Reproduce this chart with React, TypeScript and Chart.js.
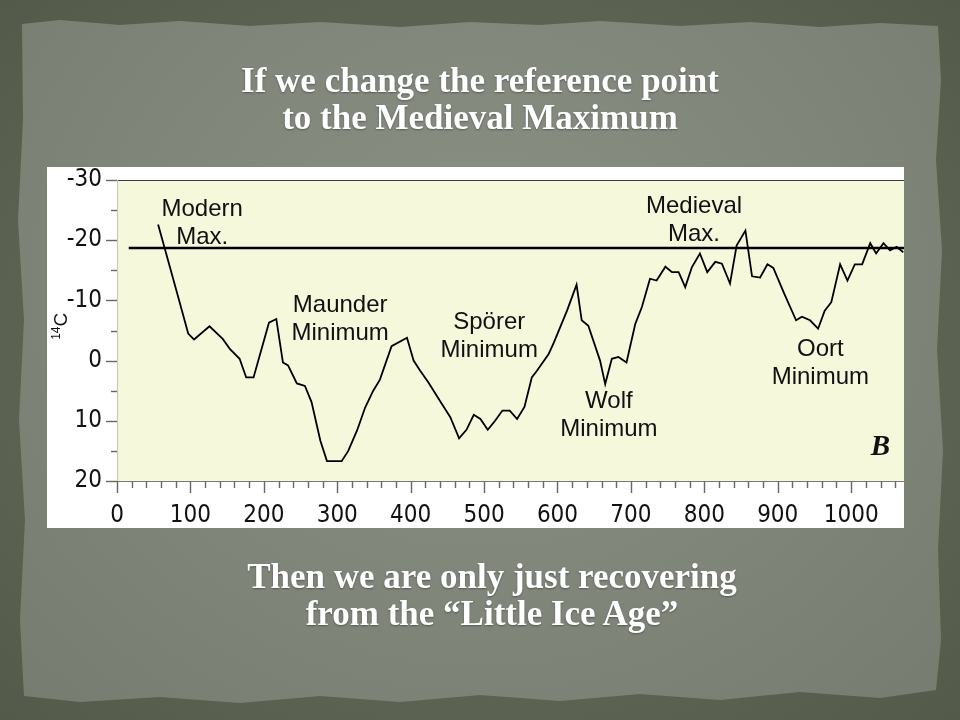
import React, { useEffect, useRef } from "react";
import { Chart, registerables } from "chart.js";
Chart.register(...registerables);

// ---- data (years AD vs. Δ14C; axis inverted) ----
const years = [56, 81, 97, 105, 126, 144, 154, 167, 176, 186, 207, 217, 226, 233, 245, 256, 265, 277, 286, 306, 315, 327, 338, 349, 358, 374, 395, 404, 413, 424, 440, 454, 466, 476, 486, 495, 505, 515, 525, 535, 545, 555, 565, 572, 588, 595, 613, 626, 633, 642, 658, 665, 674, 683, 694, 706, 715, 726, 735, 747, 756, 765, 774, 783, 794, 804, 815, 824, 835, 844, 856, 865, 876, 886, 894, 909, 925, 933, 944, 955, 964, 973, 985, 995, 1005, 1015, 1026, 1034, 1044, 1053, 1062, 1071];
const c14 = [-22.6, -11.6, -4.5, -3.5, -5.7, -3.6, -1.9, -0.3, 2.8, 2.8, -6.3, -6.9, 0.3, 0.8, 3.8, 4.2, 6.9, 13.3, 16.7, 16.7, 15.0, 11.6, 7.8, 5.0, 3.2, -2.4, -3.8, 0.0, 1.7, 3.6, 6.7, 9.4, 12.9, 11.5, 9.0, 9.7, 11.5, 10.0, 8.3, 8.3, 9.7, 7.7, 2.8, 1.7, -1.1, -3.0, -8.3, -12.6, -6.7, -5.8, 0.0, 3.9, -0.3, -0.6, 0.3, -6.1, -8.9, -13.6, -13.3, -15.6, -14.7, -14.7, -12.2, -15.5, -17.8, -14.7, -16.4, -16.1, -12.8, -19.1, -21.6, -14.0, -13.8, -16.0, -15.4, -11.1, -6.7, -7.3, -6.7, -5.3, -8.3, -9.7, -16.0, -13.3, -16.0, -16.0, -19.5, -17.8, -19.5, -18.3, -18.9, -18.0];

const refYears = [16, 1072];
const refValue = -18.7;

const xMin = 0;
const xMax = 1072;
const yMin = -30;
const yMax = 20;

const labelLines = [
  ["Modern", "Max."],
  ["Maunder", "Minimum"],
  ["Spörer", "Minimum"],
  ["Wolf", "Minimum"],
  ["Medieval", "Max."],
  ["Oort", "Minimum"],
];
const labelYears = [116, 304, 507, 670, 786, 958];
const labelValues = [-23.0, -7.0, -4.2, 8.9, -23.5, 0.25];

const panelLetter = "B";
const panelLetterYear = 1040;
const panelLetterValue = 14.5;

const titleLines = ["If we change the reference point", "to the Medieval Maximum"];
const footerLines = ["Then we are only just recovering", "from the \u201CLittle Ice Age\u201D"];

const TICK_FONT = "'Liberation Sans Narrow', 'DejaVu Sans Condensed', 'Liberation Sans', sans-serif";

const decor = {
  id: "decor",
  beforeDraw(chart: any) {
    const { ctx, chartArea: a } = chart;
    ctx.save();
    ctx.fillStyle = "#f6f8dc";
    ctx.fillRect(a.left, a.top, a.right - a.left, a.bottom - a.top);
    ctx.restore();
  },
  afterDraw(chart: any) {
    const { ctx, chartArea: a, scales } = chart;
    const xs = scales.x;
    const ys = scales.y;
    const seg = (x1: number, y1: number, x2: number, y2: number) => {
      ctx.beginPath();
      ctx.moveTo(x1, y1);
      ctx.lineTo(x2, y2);
      ctx.stroke();
    };
    ctx.save();
    ctx.lineWidth = 1.2;
    ctx.strokeStyle = "#3c3c3c";
    seg(a.left, a.top + 0.5, a.right, a.top + 0.5);
    ctx.strokeStyle = "#7a7a7a";
    seg(a.left, a.bottom + 0.5, a.right, a.bottom + 0.5);
    ctx.strokeStyle = "#c9cab8";
    seg(a.left + 0.5, a.top, a.left + 0.5, a.bottom);

    // ticks
    ctx.strokeStyle = "#666";
    ctx.lineWidth = 1.4;
    for (let v = xMin; v <= xMax; v += 20) {
      const px = Math.round(xs.getPixelForValue(v)) + 0.5;
      const len = v % 100 === 0 ? 12 : 7;
      seg(px, a.bottom, px, a.bottom + len);
    }
    for (let v = yMin; v <= yMax; v += 5) {
      const py = Math.round(ys.getPixelForValue(v)) + 0.5;
      const len = v % 10 === 0 ? 11 : 6;
      seg(a.left, py, a.left - len, py);
    }

    // annotations
    ctx.fillStyle = "#111";
    ctx.font = "24px 'Liberation Sans', Arial, sans-serif";
    ctx.textAlign = "center";
    ctx.textBaseline = "middle";
    for (let i = 0; i < labelLines.length; i++) {
      const cx = xs.getPixelForValue(labelYears[i]);
      const cy = ys.getPixelForValue(labelValues[i]);
      const lines = labelLines[i];
      const lh = 28;
      lines.forEach((t, k) => {
        ctx.fillText(t, cx, cy + (k - (lines.length - 1) / 2) * lh + 1);
      });
    }

    // panel letter
    ctx.font = "italic bold 29px 'Liberation Serif', 'Times New Roman', serif";
    ctx.fillText(panelLetter, xs.getPixelForValue(panelLetterYear), ys.getPixelForValue(panelLetterValue));

    // y title: 14C rotated
    ctx.save();
    ctx.translate(14, ys.getPixelForValue(-5.7));
    ctx.rotate(-Math.PI / 2);
    ctx.textAlign = "left";
    ctx.textBaseline = "alphabetic";
    ctx.font = "12px 'Liberation Sans', Arial, sans-serif";
    const w14 = ctx.measureText("14").width;
    ctx.font = "19px 'Liberation Sans', Arial, sans-serif";
    const wC = ctx.measureText("C").width;
    const start = -(w14 + wC) / 2;
    ctx.font = "12px 'Liberation Sans', Arial, sans-serif";
    ctx.fillText("14", start, -1);
    ctx.font = "19px 'Liberation Sans', Arial, sans-serif";
    ctx.fillText("C", start + w14, 6);
    ctx.restore();

    ctx.restore();
  },
};

const paperClip =
  "polygon(22px 24px, 60px 20px, 120px 25px, 180px 21px, 250px 26px, 320px 22px, 400px 27px, 470px 22px, 540px 25px, 600px 21px, 680px 26px, 750px 22px, 820px 27px, 880px 23px, 938px 26px, 941px 80px, 936px 160px, 942px 250px, 937px 350px, 943px 450px, 938px 550px, 941px 640px, 936px 690px, 880px 698px, 800px 692px, 720px 700px, 640px 694px, 560px 701px, 480px 695px, 400px 702px, 320px 696px, 240px 703px, 160px 697px, 80px 702px, 24px 696px, 20px 620px, 25px 520px, 19px 420px, 24px 320px, 18px 220px, 23px 120px)";

const slideText: React.CSSProperties = {
  position: "absolute",
  left: 0,
  width: 960,
  textAlign: "center",
  color: "#ffffff",
  fontFamily: "'Liberation Serif', 'Times New Roman', serif",
  fontWeight: "bold",
  fontSize: 35,
  lineHeight: "37px",
  textShadow: "0 1px 2px rgba(0,0,0,0.35)",
};

export default function App() {
  const ref = useRef<HTMLCanvasElement>(null);

  useEffect(() => {
    document.body.style.margin = "0";
    const chart = new Chart(ref.current as HTMLCanvasElement, {
      type: "line",
      data: {
        datasets: [
          {
            label: "14C",
            data: years.map((yr, i) => ({ x: yr, y: c14[i] })),
            borderColor: "#000",
            borderWidth: 1.8,
            pointRadius: 0,
            tension: 0,
            fill: false,
          },
          {
            label: "Medieval reference",
            data: refYears.map((yr) => ({ x: yr, y: refValue })),
            borderColor: "#000",
            borderWidth: 2.6,
            pointRadius: 0,
            tension: 0,
            fill: false,
          },
        ],
      },
      options: {
        animation: false,
        responsive: false,
        events: [],
        layout: { padding: { top: 13, right: 0, left: 0, bottom: 0 } },
        plugins: { legend: { display: false }, tooltip: { enabled: false } },
        scales: {
          x: {
            type: "linear",
            min: xMin,
            max: xMax,
            grid: { display: false, drawTicks: false },
            border: { display: false },
            ticks: {
              stepSize: 100,
              includeBounds: false,
              autoSkip: false,
              maxRotation: 0,
              padding: 20,
              color: "#111",
              font: { family: TICK_FONT, size: 24 },
              callback: (v: any) => String(v),
            },
            afterFit: (s: any) => {
              s.height = 47;
              s.paddingLeft = 0;
              s.paddingRight = 0;
              s.paddingTop = 0;
              s.paddingBottom = 0;
            },
          },
          y: {
            type: "linear",
            reverse: true,
            min: yMin,
            max: yMax,
            grid: { display: false, drawTicks: false },
            border: { display: false },
            ticks: {
              stepSize: 10,
              padding: 15,
              color: "#111",
              font: { family: TICK_FONT, size: 24 },
              callback: (v: any) => String(v),
            },
            afterFit: (s: any) => {
              s.width = 70;
              s.paddingTop = 0;
              s.paddingBottom = 0;
              s.paddingLeft = 0;
              s.paddingRight = 0;
            },
          },
        },
      },
      plugins: [decor],
    } as any);
    return () => chart.destroy();
  }, []);

  return (
    <div
      style={{
        position: "fixed",
        left: 0,
        top: 0,
        width: 960,
        height: 720,
        overflow: "hidden",
        background: "radial-gradient(ellipse at 50% 50%, #666c5c 0%, #5c6251 70%, #545a4a 100%)",
      }}
    >
      <div
        style={{
          position: "absolute",
          left: 0,
          top: 0,
          width: 960,
          height: 720,
          clipPath: paperClip,
          background: "radial-gradient(ellipse at 50% 40%, #8b9085 0%, #80857a 55%, #767b6f 100%)",
        }}
      />
      <div style={{ ...slideText, top: 62, left: 0 }}>
        {titleLines.map((t, i) => (
          <div key={i}>{t}</div>
        ))}
      </div>
      <div
        style={{
          position: "absolute",
          left: 47,
          top: 167,
          width: 857,
          height: 361,
          background: "#ffffff",
        }}
      >
        <canvas ref={ref} width={857} height={361} style={{ display: "block" }} />
      </div>
      <div style={{ ...slideText, top: 558, left: 12 }}>
        {footerLines.map((t, i) => (
          <div key={i}>{t}</div>
        ))}
      </div>
    </div>
  );
}
